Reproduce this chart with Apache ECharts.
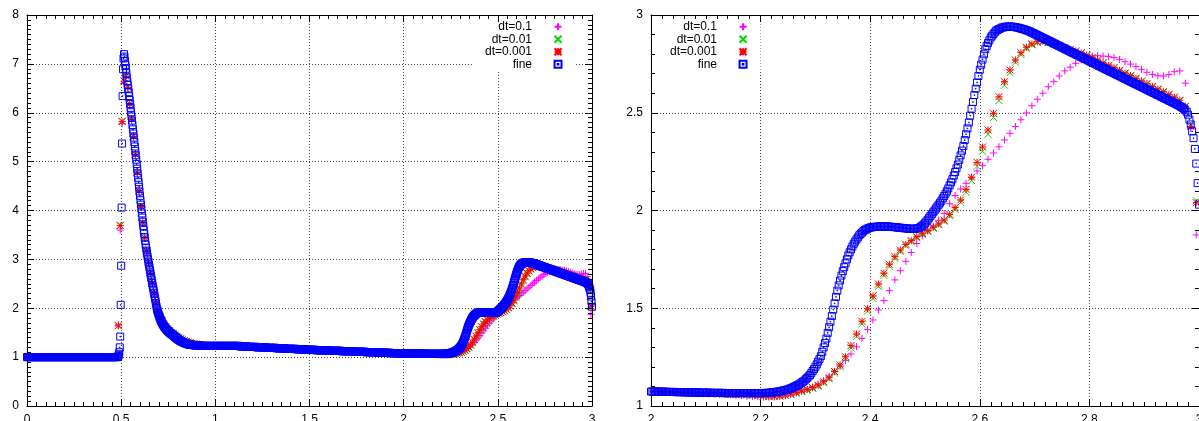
<!DOCTYPE html>
<html><head><meta charset="utf-8">
<script src="https://cdn.jsdelivr.net/npm/echarts@6/dist/echarts.min.js"></script>
<style>html,body{margin:0;padding:0;background:#fff}#c{width:1199px;height:421px}</style>
</head><body><div id="c"></div>
<script>
// ---------- series names ----------
const seriesNames = ['dt=0.1', 'dt=0.01', 'dt=0.001', 'fine'];

// ---------- fine solution (blue squares) ----------
// fineA: x = 0 .. 0.48, step 0.005
const fineA = [
1,1,1,1,1,1,1,1,1,1, 1,1,1,1,1,1,1,1,1,1, 1,1,1,1,1,1,1,1,1,1,
1,1,1,1,1,1,1,1,1,1, 1,1,1,1,1,1,1,1,1,1, 1,1,1,1,1,1,1,1,1,1,
1,1,1,1,1,1,1,1,1,1, 1,1,1,1,1,1,1,1,1,1, 1,1,1,1,1,1,1,1,1,1,
1,1,1,1,1,1,1];
// fineB: x = 0.4825 .. 0.9, step 0.0025 (shock + decay)
const fineB = [
1.01,1.02,1.05,1.1,1.2,1.42,2.07,2.87,4.06,5.37,6.34,6.89,7.11,7.2,7.15,7.06,
6.98,6.9,6.81,6.72, 6.645,6.57,6.495,6.42, 6.34,6.26,6.18,6.1, 6.01,5.925,5.84,5.75,
5.66,5.575,5.49,5.4, 5.31,5.22,5.13,5.04, 4.95,4.855,4.76,4.67, 4.58,4.485,4.39,4.3,
4.21,4.12,4.03,3.94, 3.855,3.77,3.685,3.6, 3.525,3.45,3.375,3.3, 3.24,3.18,3.12,3.06,
3.005,2.95,2.895,2.84, 2.785,2.73,2.675,2.62, 2.57,2.515,2.46,2.41, 2.36,2.305,2.25,2.2,
2.15,2.095,2.04,1.99, 1.955,1.92,1.89,1.86, 1.835,1.81,1.785,1.76, 1.74,1.72,1.7,1.68,
1.665,1.65,1.635,1.62, 1.607,1.595,1.582,1.57, 1.56,1.55,1.54,1.53, 1.521,1.512,1.504,1.495,
1.487,1.48,1.472,1.465, 1.457,1.45,1.442,1.435, 1.426,1.417,1.408,1.4, 1.392,1.385,1.377,1.37,
1.364,1.357,1.351,1.345, 1.339,1.333,1.328,1.322, 1.317,1.312,1.307,1.302, 1.298,1.293,1.289,1.285,
1.281,1.277,1.274,1.27, 1.267,1.265,1.262,1.26, 1.258,1.256,1.254,1.252, 1.251,1.25,1.248,1.247,
1.246,1.245,1.244,1.243, 1.242,1.241,1.24,1.24];
// fineC: x = 0.905 .. 1.975, step 0.005
const fineC = [
1.24,1.24,1.24,
1.23,1.23,1.23,1.23,1.23,1.23,1.23,1.23,1.23,1.23,1.23,1.23,1.23,1.23,1.23,1.23,1.23,1.23,1.23,1.23,1.23,
1.23,1.23,1.23,1.23,1.23,1.23,1.23,1.23,1.23,1.23,1.23,1.23,1.23,1.23,1.23,1.23,1.23,1.23,1.23,1.23,1.23,
1.22,1.22,1.22,1.22,1.22,1.22,1.22,1.22,
1.21,1.21,1.21,1.21,1.21,1.21,1.21,1.21,1.21,1.21,
1.2,1.2,1.2,1.2,1.2,1.2,1.2,1.2,1.2,1.2,
1.19,1.19,1.19,1.19,1.19,1.19,1.19,1.19,1.19,1.19,1.19,
1.18,1.18,1.18,1.18,1.18,1.18,1.18,1.18,1.18,1.18,
1.17,1.17,1.17,1.17,1.17,1.17,1.17,1.17,1.17,1.17,1.17,
1.16,1.16,1.16,1.16,1.16,1.16,1.16,1.16,1.16,1.16,
1.15,1.15,1.15,1.15,1.15,1.15,1.15,1.15,1.15,1.15,1.15,
1.14,1.14,1.14,1.14,1.14,1.14,1.14,1.14,1.14,1.14,1.14,1.14,1.14,1.14,
1.13,1.13,1.13,1.13,1.13,1.13,1.13,1.13,1.13,1.13,1.13,1.13,1.13,
1.12,1.12,1.12,1.12,1.12,1.12,1.12,1.12,1.12,1.12,1.12,1.12,1.12,
1.11,1.11,1.11,1.11,1.11,1.11,1.11,1.11,1.11,1.11,1.11,1.11,1.11,
1.1,1.1,1.1,1.1,1.1,1.1,1.1,1.1,1.1,1.1,1.1,1.1,1.1,
1.09,1.09,1.09,1.09,1.09,1.09,1.09,1.09,1.09,1.09,1.09,1.09,1.09,
1.08,1.08,1.08,1.08,1.08,1.08,1.08,1.08,1.08,1.08];
// fineD: x = 1.98 .. 3.0, step 0.0025
const fineD = [
1.077,1.077,1.076,1.076, 1.076,1.075,1.075,1.075, 1.074,1.074,1.074,1.074, 1.074,1.074,1.073,1.073,
1.073,1.073,1.073,1.073, 1.072,1.072,1.072,1.072, 1.072,1.072,1.071,1.071, 1.071,1.071,1.071,1.071,
1.07,1.07,1.07,1.07, 1.07,1.07,1.069,1.069, 1.069,1.069,1.069,1.069, 1.068,1.068,1.068,1.068,
1.068,1.068,1.068,1.068, 1.067,1.067,1.067,1.067, 1.067,1.067,1.067,1.067, 1.067,1.067,1.066,1.066,
1.066,1.066,1.066,1.066,
1.066,1.066,1.066,1.066,1.066,1.066,1.066,1.066,1.066,1.066,1.066,1.066,1.066,1.066,1.066,1.066,1.066,1.066,1.066,1.066,
1.066,
1.066,1.066,1.067,1.067, 1.067,1.068,1.068,1.069, 1.07,1.071,1.072,1.073, 1.074,1.075,1.077,1.078,
1.08,1.082,1.083,1.085, 1.088,1.09,1.093,1.096, 1.1,1.103,1.107,1.11, 1.115,1.12,1.125,1.13,
1.137,1.144,1.151,1.158, 1.168,1.179,1.189,1.2, 1.213,1.227,1.241,1.255, 1.277,1.3,1.322,1.345,
1.374,1.403,1.431,1.46, 1.493,1.525,1.558,1.59, 1.617,1.642,1.667,1.69, 1.71,1.73,1.75,1.77,
1.786,1.801,1.816,1.83, 1.841,1.852,1.862,1.873, 1.88,1.887,1.894,1.9, 1.903,1.907,1.91,1.913,
1.914,1.915,1.916,1.917, 1.917,1.918,1.918,1.918, 1.918,1.918,1.918,1.918, 1.918,1.917,1.917,1.916,
1.915,1.915,1.914,1.913, 1.912,1.912,1.911,1.91, 1.909,1.909,1.908,1.907, 1.907,1.906,1.906,1.906,
1.907,1.908,1.91,1.912, 1.917,1.922,1.928,1.935, 1.944,1.953,1.963,1.972, 1.981,1.991,2.0,2.01,
2.02,2.03,2.04,2.05, 2.062,2.074,2.086,2.098, 2.113,2.129,2.144,2.16, 2.179,2.197,2.216,2.235,
2.259,2.282,2.306,2.33, 2.36,2.39,2.42,2.45, 2.485,2.52,2.555,2.59, 2.623,2.655,2.688,2.72,
2.746,2.772,2.799,2.825, 2.842,2.857,2.871,2.885, 2.894,2.903,2.911,2.92, 2.924,2.928,2.931,2.935,
2.937,2.938,2.94,2.941, 2.941,2.941,2.94,2.94, 2.939,2.938,2.936,2.935, 2.933,2.931,2.929,2.927,
2.925,2.922,2.92,2.917, 2.914,2.91,2.907,2.904, 2.9,2.897,2.893,2.89, 2.886,2.883,2.879,2.876,
2.873,2.869,2.866,2.862, 2.859,2.855,2.852,2.848, 2.845,2.841,2.838,2.834, 2.831,2.827,2.824,2.82,
2.817,2.813,2.81,2.806, 2.803,2.799,2.796,2.793, 2.789,2.786,2.782,2.779, 2.775,2.772,2.768,2.765,
2.761,2.758,2.754,2.751, 2.747,2.744,2.74,2.737, 2.733,2.73,2.726,2.723, 2.719,2.716,2.712,2.709,
2.706,2.702,2.699,2.695, 2.692,2.688,2.685,2.681, 2.678,2.674,2.671,2.667, 2.664,2.66,2.657,2.653,
2.65,2.647,2.643,2.64, 2.636,2.633,2.629,2.626, 2.622,2.619,2.615,2.612, 2.608,2.605,2.601,2.598,
2.594,2.591,2.588,2.584, 2.581,2.577,2.574,2.57, 2.567,2.563,2.56,2.556, 2.553,2.549,2.546,2.542,
2.538,2.534,2.53,2.525, 2.52,2.513,2.505,2.49, 2.465,2.44,2.405,2.37, 2.315,2.24,2.14,2.03];

// ---------- coarse runs: x = 0.005 + 0.01*i ----------
// dt=0.001 (red stars)
const dt001L = [
1,1,1,1,1,1,1,1,1,1, 1,1,1,1,1,1,1,1,1,1, 1,1,1,1,1,1,1,1,1,1, 1,1,1,1,1,1,1,1,1,1, 1,1,1,1,1,1,1,1,
1.64,3.69,5.82,6.65,6.75,6.52,6.18,5.88,5.52,5.15,4.78,4.4,4.08,3.75,3.44,3.17,2.94,2.72,2.51,2.3,
2.1,1.95,1.83,1.74,1.67,1.615,1.57,1.535,1.5,1.47,1.445,1.42,1.395,1.375,1.355,1.335,1.32,1.305,1.292,1.28,
1.27,1.263,1.257,1.252,1.247,1.243,1.24,1.237,1.235,1.233,1.232,1.231,
1.23,1.23,1.23,1.23,1.23,1.23,1.23,1.23,1.23,1.23,1.23,1.23,1.23, 1.22,1.22,1.22,1.22,
1.21,1.21,1.21,1.21,1.21, 1.2,1.2,1.2,1.2,1.2, 1.19,1.19,1.19,1.19,1.19, 1.18,1.18,1.18,1.18,1.18,
1.17,1.17,1.17,1.17,1.17, 1.16,1.16,1.16,1.16,1.16, 1.15,1.15,1.15,1.15,1.15,1.15, 1.14,1.14,1.14,1.14,1.14,1.14,
1.13,1.13,1.13,1.13,1.13,1.13,1.13, 1.12,1.12,1.12,1.12,1.12,1.12,1.12, 1.11,1.11,1.11,1.11,1.11,1.11,
1.1,1.1,1.1,1.1,1.1,1.1,1.1, 1.09,1.09,1.09,1.09,1.09,1.09,1.09, 1.08,1.08,1.08,1.08,1.08,1.08, 1.075];
const dt001R = [
1.074,1.073,1.072,1.071,1.07,1.07,1.069,1.068,1.067,1.066,1.065,1.064,1.063,1.062,1.061,1.06,1.059,1.058,1.057,1.055,
1.052,1.05,1.05,1.052,1.056,1.062,1.069,1.078,1.085,1.094, 1.106,1.124,1.145,1.176,1.21,1.252,1.309,1.368,1.433,1.498,
1.563,1.624,1.679,1.725,1.764,1.798,1.827,1.846,1.866,1.883, 1.897,1.914,1.931,1.951,1.98,2.015,2.054,2.108,2.17,2.246,
2.325,2.412,2.497,2.582,2.659,2.719,2.77,2.807,2.835,2.852, 2.863,2.865,2.86,2.855,2.843,2.833,2.824,2.816,2.807,2.795,
2.783,2.77,2.756,2.743,2.731,2.717,2.703,2.69,2.676,2.662, 2.649,2.635,2.621,2.608,2.594,2.58,2.564,2.533,2.43,2.04];
// dt=0.01 (green crosses)
const dt01L = [
1,1,1,1,1,1,1,1,1,1, 1,1,1,1,1,1,1,1,1,1, 1,1,1,1,1,1,1,1,1,1, 1,1,1,1,1,1,1,1,1,1, 1,1,1,1,1,1,1,1,
1.65,3.7,5.83,6.66,6.76,6.53,6.19,5.89,5.53,5.16,4.79,4.41,4.09,3.76,3.45,3.18,2.95,2.73,2.52,2.31,
2.11,1.955,1.835,1.745,1.673,1.618,1.572,1.537,1.502,1.472,1.447,1.422,1.397,1.377,1.357,1.337,1.322,1.307,1.294,1.282,
1.272,1.264,1.258,1.253,1.248,1.244,1.241,1.238,1.236,1.234,1.233,1.232,
1.23,1.23,1.23,1.23,1.23,1.23,1.23,1.23,1.23,1.23,1.23,1.23,1.23, 1.22,1.22,1.22,1.22,
1.21,1.21,1.21,1.21,1.21, 1.2,1.2,1.2,1.2,1.2, 1.19,1.19,1.19,1.19,1.19, 1.18,1.18,1.18,1.18,1.18,
1.17,1.17,1.17,1.17,1.17, 1.16,1.16,1.16,1.16,1.16, 1.15,1.15,1.15,1.15,1.15,1.15, 1.14,1.14,1.14,1.14,1.14,1.14,
1.13,1.13,1.13,1.13,1.13,1.13,1.13, 1.12,1.12,1.12,1.12,1.12,1.12,1.12, 1.11,1.11,1.11,1.11,1.11,1.11,
1.1,1.1,1.1,1.1,1.1,1.1,1.1, 1.09,1.09,1.09,1.09,1.09,1.09,1.09, 1.08,1.08,1.08,1.08,1.08,1.08, 1.075];
const dt01R = [
1.073,1.072,1.071,1.07,1.069,1.069,1.068,1.067,1.066,1.065,1.064,1.063,1.062,1.061,1.06,1.059,1.058,1.056,1.055,1.053,
1.05,1.048,1.048,1.05,1.053,1.059,1.066,1.074,1.081,1.09, 1.101,1.118,1.139,1.168,1.201,1.242,1.297,1.356,1.42,1.485,
1.55,1.612,1.668,1.715,1.755,1.79,1.82,1.84,1.86,1.878, 1.893,1.909,1.926,1.945,1.972,2.005,2.042,2.093,2.153,2.226,
2.303,2.39,2.476,2.562,2.641,2.705,2.758,2.798,2.828,2.847, 2.859,2.862,2.858,2.852,2.84,2.83,2.821,2.812,2.803,2.791,
2.779,2.766,2.752,2.739,2.727,2.713,2.699,2.686,2.672,2.658, 2.645,2.631,2.617,2.604,2.59,2.576,2.56,2.53,2.44,2.05];
// dt=0.1 (magenta plus)
const dt1L = [
1,1,1,1,1,1,1,1,1,1, 1,1,1,1,1,1,1,1,1,1, 1,1,1,1,1,1,1,1,1,1, 1,1,1,1,1,1,1,1,1,1, 1,1,1,1,1,1,1,1,
1.66,3.6,5.78,6.6,6.72,6.5,6.15,5.85,5.5,5.13,4.76,4.39,4.07,3.74,3.43,3.16,2.93,2.71,2.5,2.29,
2.09,1.94,1.825,1.735,1.665,1.61,1.567,1.532,1.498,1.468,1.443,1.418,1.393,1.373,1.353,1.333,1.318,1.303,1.29,1.278,
1.268,1.261,1.255,1.25,1.245,1.241,1.238,1.235,1.233,1.231,1.23,1.229,
1.23,1.23,1.23,1.23,1.23,1.23,1.23,1.23,1.23,1.23,1.23,1.23,1.23, 1.22,1.22,1.22,1.22,
1.21,1.21,1.21,1.21,1.21, 1.2,1.2,1.2,1.2,1.2, 1.19,1.19,1.19,1.19,1.19, 1.18,1.18,1.18,1.18,1.18,
1.17,1.17,1.17,1.17,1.17, 1.16,1.16,1.16,1.16,1.16, 1.15,1.15,1.15,1.15,1.15,1.15, 1.14,1.14,1.14,1.14,1.14,1.14,
1.13,1.13,1.13,1.13,1.13,1.13,1.13, 1.12,1.12,1.12,1.12,1.12,1.12,1.12, 1.11,1.11,1.11,1.11,1.11,1.11,
1.1,1.1,1.1,1.1,1.1,1.1,1.1, 1.09,1.09,1.09,1.09,1.09,1.09,1.09, 1.08,1.08,1.08,1.08,1.08,1.08, 1.074];
const dt1R = [
1.072,1.071,1.07,1.069,1.068,1.067,1.066,1.065,1.064,1.063,1.062,1.061,1.06,1.059,1.057,1.055,1.053,1.051,1.049,1.047,
1.045,1.045,1.046,1.048,1.052,1.058,1.066,1.075,1.085,1.097, 1.112,1.13,1.152,1.176,1.203,1.233,1.266,1.303,1.346,1.392,
1.44,1.491,1.539,1.59,1.645,1.692,1.74,1.785,1.831,1.87, 1.895,1.92,1.95,1.985,2.035,2.077,2.11,2.139,2.17,2.202,
2.229,2.262,2.294,2.326,2.361,2.395,2.43,2.464,2.499,2.536, 2.569,2.6,2.633,2.659,2.688,2.714,2.733,2.753,2.77,2.782,
2.79,2.792,2.79,2.787,2.782,2.773,2.761,2.749,2.736,2.722, 2.707,2.696,2.689,2.688,2.696,2.71,2.714,2.651,2.42,1.875];

// ---------- build point lists ----------
function seg(x0, dx, ys) { return ys.map((y, i) => [Math.round((x0 + dx * i) * 1e5) / 1e5, y]); }
const fineData = [].concat(seg(0, 0.005, fineA), seg(0.4825, 0.0025, fineB), seg(0.905, 0.005, fineC), seg(1.98, 0.0025, fineD));
const dt001Data = seg(0.005, 0.01, dt001L).concat(seg(2.005, 0.01, dt001R));
const dt01Data = seg(0.005, 0.01, dt01L).concat(seg(2.005, 0.01, dt01R));
const dt1Data = seg(0.005, 0.01, dt1L).concat(seg(2.005, 0.01, dt1R));

const FONT = 'Liberation Sans';
const SYM_PLUS = 'path://M0,5L10,5M5,0L5,10';
const SYM_CROSS = 'path://M0,0L10,10M10,0L0,10';
const SYM_STAR = 'path://M0,5L10,5M5,0L5,10M0,0L10,10M10,0L0,10';
const SYM_BOX = 'path://M0,0L10,0L10,10L0,10Z M4.5,4.5L5.5,4.5L5.5,5.5L4.5,5.5Z';
const COLORS = ['#ff00ff', '#00d800', '#ff0000', '#0000ff'];

function xAx(gi, min, max, interval, minor, top) {
  return {
    type: 'value', gridIndex: gi, min: min, max: max, interval: interval,
    position: top ? 'top' : 'bottom', z: top ? 5 : 0,
    axisLine: { show: true, onZero: false, lineStyle: { color: '#000', width: 1 } },
    axisTick: { show: true, inside: true, length: 7, lineStyle: { color: '#000', width: 1 } },
    minorTick: { show: true, splitNumber: minor, length: 4, lineStyle: { color: '#000', width: 1 } },
    axisLabel: { show: !top, margin: 8, color: '#000', fontSize: 12, fontFamily: FONT },
    splitLine: { show: !top, lineStyle: { color: '#444', width: 1, type: [1, 2] } },
    minorSplitLine: { show: false }
  };
}
function yAx(gi, min, max, interval, minor, right) {
  return {
    type: 'value', gridIndex: gi, min: min, max: max, interval: interval,
    position: right ? 'right' : 'left', z: right ? 5 : 0,
    axisLine: { show: true, onZero: false, lineStyle: { color: '#000', width: 1 } },
    axisTick: { show: true, inside: true, length: 7, lineStyle: { color: '#000', width: 1 } },
    minorTick: { show: true, splitNumber: minor, length: 4, lineStyle: { color: '#000', width: 1 } },
    axisLabel: { show: !right, margin: 8, color: '#000', fontSize: 12, fontFamily: FONT },
    splitLine: { show: !right, lineStyle: { color: '#444', width: 1, type: [1, 2] } },
    minorSplitLine: { show: false }
  };
}
const datasets = [dt1Data, dt01Data, dt001Data, fineData];
const symbols = [SYM_PLUS, SYM_CROSS, SYM_STAR, SYM_BOX];
const series = [];
[0, 1].forEach(function (gi) {
  seriesNames.forEach(function (nm, k) {
    series.push({
      type: 'scatter', name: nm, data: datasets[k],
      xAxisIndex: gi * 2, yAxisIndex: gi * 2,
      symbol: symbols[k], symbolSize: 7,
      itemStyle: { color: 'rgba(0,0,0,0)', borderColor: COLORS[k], borderWidth: 1, opacity: 1 },
      silent: true, animation: false, progressive: 0, large: false,
      emphasis: { disabled: true }
    });
  });
});
function legendDef(left) {
  return {
    orient: 'vertical', left: left, top: 16, align: 'right',
    itemWidth: 42, itemHeight: 7, itemGap: 0, padding: [4.5, 13, 0, 12],
    backgroundColor: '#fff', z: 4, selectedMode: false,
    textStyle: { fontFamily: FONT, fontSize: 12, color: '#000', lineHeight: 12.5 },
    data: seriesNames
  };
}
const option = {
  animation: false,
  backgroundColor: '#fff',
  grid: [
    { left: 27, top: 15, width: 565, height: 391, containLabel: false, outerBoundsMode: 'none' },
    { left: 651, top: 15, width: 548, height: 391, containLabel: false, outerBoundsMode: 'none' }
  ],
  xAxis: [xAx(0, 0, 3, 0.5, 10, false), xAx(0, 0, 3, 0.5, 10, true),
          xAx(1, 2, 3, 0.2, 10, false), xAx(1, 2, 3, 0.2, 10, true)],
  yAxis: [yAx(0, 0, 8, 1, 10, false), yAx(0, 0, 8, 1, 10, true),
          yAx(1, 1, 3, 0.5, 5, false), yAx(1, 1, 3, 0.5, 5, true)],
  legend: [legendDef(473), legendDef(658)],
  series: series
};
const chart = echarts.init(document.getElementById('c'), null, { renderer: 'canvas' });
chart.setOption(option);
</script></body></html>
